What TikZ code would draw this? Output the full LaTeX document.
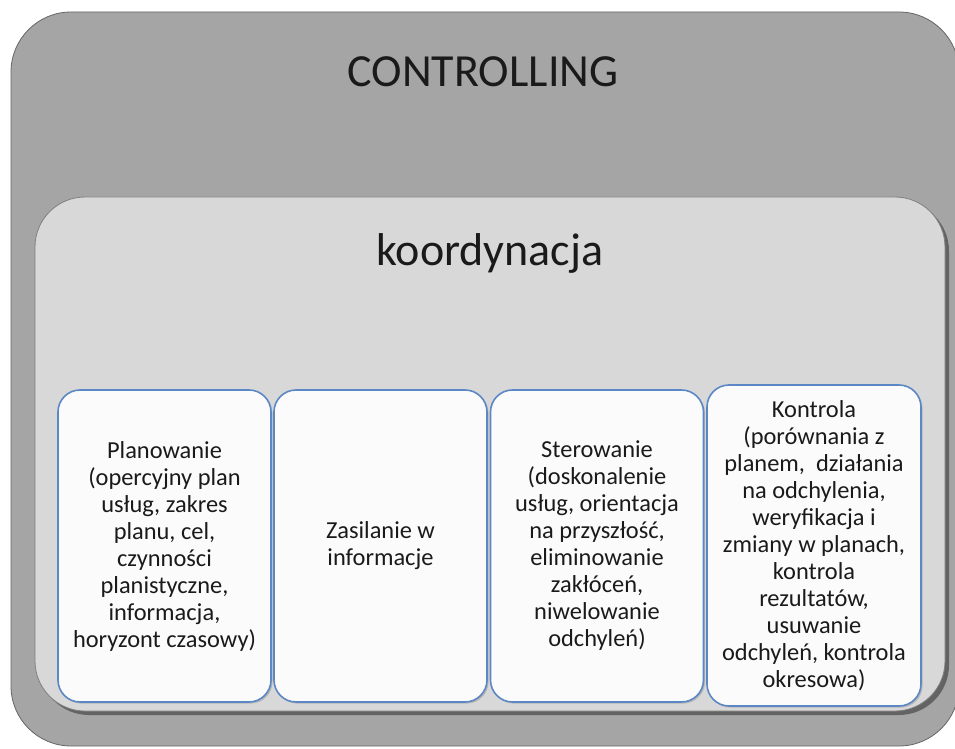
\documentclass[tikz,border=0pt]{standalone}
\usepackage{fontspec}
\setmainfont{Carlito}
\usetikzlibrary{shadows}
\definecolor{outergray}{HTML}{A5A5A5}
\definecolor{innergray}{HTML}{D8D8D8}
\definecolor{boxblue}{HTML}{5B87C5}
\definecolor{boxfill}{HTML}{FBFBFB}
\definecolor{textblack}{HTML}{1A1A1A}
\tikzset{
  outerframe/.style={draw=black!60, fill=outergray, rounded corners=30pt,
    minimum width=474pt, minimum height=367pt},
  innerframe/.style={draw=black!50, fill=innergray, rounded corners=25pt,
    minimum width=455pt, minimum height=257pt,
    drop shadow={shadow xshift=2pt, shadow yshift=-2pt, opacity=0.4, fill=black}},
  stagebox/.style={draw=boxblue, thick, fill=boxfill, rounded corners=11pt,
    minimum width=106.5pt, minimum height=156pt, align=center,
    font=\fontsize{12.2}{13.5}\selectfont, text=textblack,
    drop shadow={shadow xshift=0.8pt, shadow yshift=-0.8pt, opacity=0.15, fill=black}},
  bigtitle/.style={font=\fontsize{23}{27}\selectfont, text=textblack}
}
\begin{document}
\begin{tikzpicture}[x=0.5pt,y=-0.5pt]
	\useasboundingbox (0,0) rectangle (955,749);
	% ramy
	\node[outerframe] (controlling) at (485,379) {};
	\node[innerframe] (koordynacja) at (490,454) {};
	\node[bigtitle] (controllingtitle) at (483,72) {CONTROLLING};
	\node[bigtitle] (koordtitle) at (490,253) {koordynacja};
	% etapy
	\node[stagebox] (planowanie) at (164.5,546) {Planowanie\\(opercyjny plan\\usług, zakres\\planu, cel,\\czynności\\planistyczne,\\informacja,\\horyzont czasowy)};
	\node[stagebox] (zasilanie) at (380.5,546) {Zasilanie w\\informacje};
	\node[stagebox] (sterowanie) at (597,546) {Sterowanie\\(doskonalenie\\usług, orientacja\\na przyszłość,\\eliminowanie\\zakłóceń,\\niwelowanie\\odchyleń)};
	\node[stagebox, minimum width=107pt, minimum height=160.5pt] (kontrola) at (814,545.5) {Kontrola\\(porównania z\\planem,\ \ działania\\na odchylenia,\\weryfikacja i\\zmiany w planach,\\kontrola\\rezultatów,\\usuwanie\\odchyleń, kontrola\\okresowa)};
\end{tikzpicture}
\end{document}
